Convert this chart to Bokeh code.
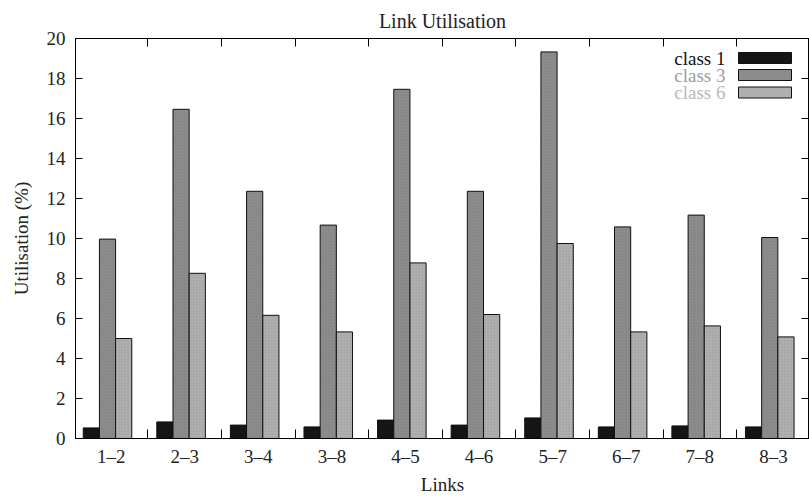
import numpy as np
from bokeh.plotting import figure
from bokeh.models import (ColumnDataSource, FixedTicker, LinearAxis, Range1d,
                          Label, BoxAnnotation)
from bokeh.transform import dodge
from bokeh.embed import file_html
from bokeh.resources import INLINE

links = ["1–2", "2–3", "3–4", "3–8", "4–5", "4–6", "5–7", "6–7", "7–8", "8–3"]
class1 = [0.53, 0.83, 0.67, 0.58, 0.92, 0.67, 1.03, 0.58, 0.63, 0.58]
class3 = [9.97, 16.46, 12.36, 10.67, 17.46, 12.36, 19.33, 10.58, 11.17, 10.05]
class6 = [5.00, 8.26, 6.16, 5.33, 8.78, 6.20, 9.75, 5.33, 5.63, 5.08]
y_ticks = list(range(0, 21, 2))

FONT = "Liberation Serif"
FS = "19px"

idx = np.arange(len(links))
src = ColumnDataSource(dict(x=idx, c1=class1, c3=class3, c6=class6))

p = figure(width=809, height=497, output_backend="svg", toolbar_location=None,
           x_range=Range1d(-0.435, 9.54), y_range=Range1d(0, 20),
           title="Link Utilisation",
           min_border_left=75, min_border_right=0, min_border_top=38,
           min_border_bottom=59)
p.grid.visible = False
p.background_fill_color = "white"
p.border_fill_color = "white"
p.outline_line_color = "black"
p.outline_line_width = 1

p.title.align = "center"
p.title.standoff = 14
p.title.text_font = FONT
p.title.text_font_size = "20px"
p.title.text_font_style = "normal"
p.title.text_color = "#222222"

W = 0.22
colors = ["#151515", "#8c8c8c", "#b0b0b0"]
for col, off, c in zip(["c1", "c3", "c6"], [-W, 0, W], colors):
    p.vbar(x=dodge("x", off, range=p.x_range), top=col, width=W, bottom=0,
           source=src, fill_color=c, line_color="#111111", line_width=1,
           hatch_pattern=".", hatch_color="#555555" if col != "c1" else c,
           hatch_alpha=0.25, hatch_scale=3)

# x axes
label_pos = [float(i) + 0.05 for i in idx]
bounds = [float(i) - 0.45 for i in idx[1:]]
xa = p.xaxis[0]
xa.ticker = FixedTicker(ticks=label_pos, minor_ticks=bounds)
xa.major_label_overrides = {lp: l for lp, l in zip(label_pos, links)}
xa.major_tick_in = 0
xa.major_tick_out = 0
xa.minor_tick_in = 9
xa.minor_tick_out = 0
xa.major_label_standoff = 7
xa.axis_label = "Links"
xa.axis_label_standoff = 4

top = LinearAxis(ticker=FixedTicker(ticks=[], minor_ticks=bounds),
                 major_tick_in=0, major_tick_out=0, minor_tick_in=8,
                 minor_tick_out=0, major_label_standoff=0)
p.add_layout(top, "above")

# y axes
ya = p.yaxis[0]
ya.ticker = FixedTicker(ticks=y_ticks)
ya.major_tick_in = 7
ya.major_tick_out = 0
ya.minor_tick_in = 0
ya.minor_tick_out = 0
ya.major_label_standoff = 10
ya.axis_label = "Utilisation (%)"
ya.axis_label_standoff = 12

right = LinearAxis(ticker=FixedTicker(ticks=[], minor_ticks=y_ticks),
                   major_tick_in=0, major_tick_out=0, minor_tick_in=8,
                   minor_tick_out=0, major_label_standoff=0)
p.add_layout(right, "right")

for ax in [xa, ya, top, right]:
    ax.axis_line_color = "black"
    ax.major_tick_line_color = "black"
    ax.minor_tick_line_color = "black"
    ax.major_label_text_font = FONT
    ax.major_label_text_color = "#222222"
    ax.axis_label_text_font = FONT
    ax.axis_label_text_font_style = "normal"
    ax.axis_label_text_color = "#222222"
    ax.axis_label_text_font_size = FS
xa.major_label_text_font_size = FS
ya.major_label_text_font_size = FS

# legend (text left of swatch, as in the original)
leg_names = ["class 1", "class 3", "class 6"]
leg_text_colors = ["#111111", "#9c9c9c", "#b9b9b9"]
rows = [380.5, 363.5, 346.0]
for name, tc, fc, yc in zip(leg_names, leg_text_colors, colors, rows):
    p.add_layout(Label(x=650, y=yc, x_units="screen", y_units="screen",
                       text=name, text_align="right", text_baseline="middle",
                       text_font=FONT, text_font_size=FS, text_color=tc))
    p.add_layout(BoxAnnotation(left=663, right=716, bottom=yc - 5.5,
                               top=yc + 5.5, left_units="screen",
                               right_units="screen", top_units="screen",
                               bottom_units="screen", fill_color=fc,
                               fill_alpha=1, line_color="#111111",
                               line_width=1, line_alpha=1))

open("out.html", "w").write(file_html(p, INLINE))
